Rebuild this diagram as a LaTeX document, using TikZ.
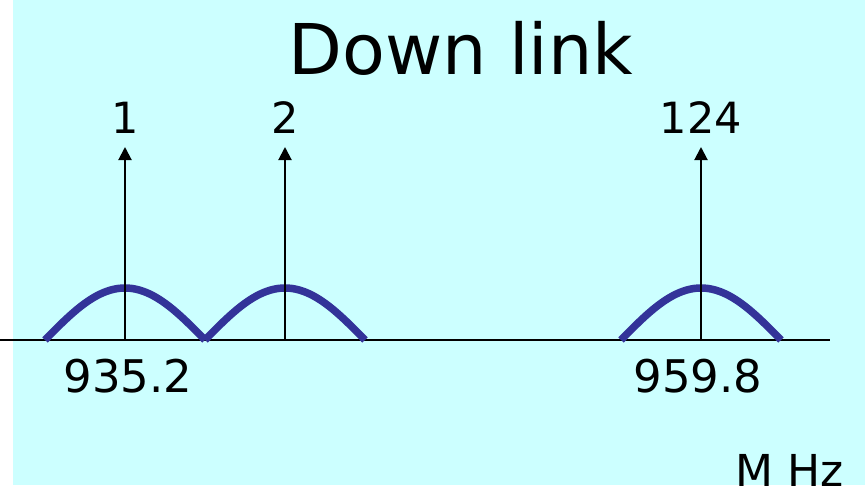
\documentclass[tikz,border=0pt]{standalone}
\usepackage{fontspec}
\setmainfont{DejaVu Sans}
\usetikzlibrary{arrows.meta}
\definecolor{bgcyan}{HTML}{CCFFFF}
\definecolor{arch}{HTML}{333399}
\begin{document}
\begin{tikzpicture}[x=1pt,y=-1pt,
  lbl/.style={inner sep=0pt,font=\fontsize{43}{47}\selectfont},
  carrier/.style={line width=2pt,-{Triangle[length=13pt,width=13pt]}},
  archline/.style={line width=7.5pt,arch,line join=round}]
\useasboundingbox (0,0) rectangle (865,485);
\begin{scope}
\clip (0,0) rectangle (865,485);
\fill[bgcyan] (13,0) rectangle (865,485);
\node[inner sep=0pt,anchor=base west,font=\fontsize{44}{48}\selectfont] (unit) at (735,486) {M Hz};
\end{scope}
\node[inner sep=0pt,font=\fontsize{70}{76}\selectfont] (title) at (461,48) {Down link};
% axis
\coordinate (axL) at (0,340);
\coordinate (axR) at (830,340);
\draw[line width=2pt] (axL) -- (axR);
% arches
\draw[archline] plot[domain=0:160,samples=60,smooth] ({45+\x},{340-52*sin(1.125*\x)});
\draw[archline] plot[domain=0:160,samples=60,smooth] ({205+\x},{340-52*sin(1.125*\x)});
\draw[archline] plot[domain=0:160,samples=60,smooth] ({621+\x},{340-52*sin(1.125*\x)});
% carriers
\node[lbl] (n1) at (125,118) {1};
\node[lbl] (n2) at (285,118) {2};
\node[lbl] (n124) at (701,118) {124};
\coordinate (b1) at (125,340);
\coordinate (b2) at (285,340);
\coordinate (b124) at (701,340);
\coordinate (t1) at (125,147);
\coordinate (t2) at (285,147);
\coordinate (t124) at (701,147);
\draw[carrier] (b1) -- (t1);
\draw[carrier] (b2) -- (t2);
\draw[carrier] (b124) -- (t124);
% frequencies
\node[lbl,font=\fontsize{45}{49}\selectfont] (f1) at (128,376) {935.2};
\node[lbl,font=\fontsize{45}{49}\selectfont] (f124) at (698,376) {959.8};
\end{tikzpicture}
\end{document}
